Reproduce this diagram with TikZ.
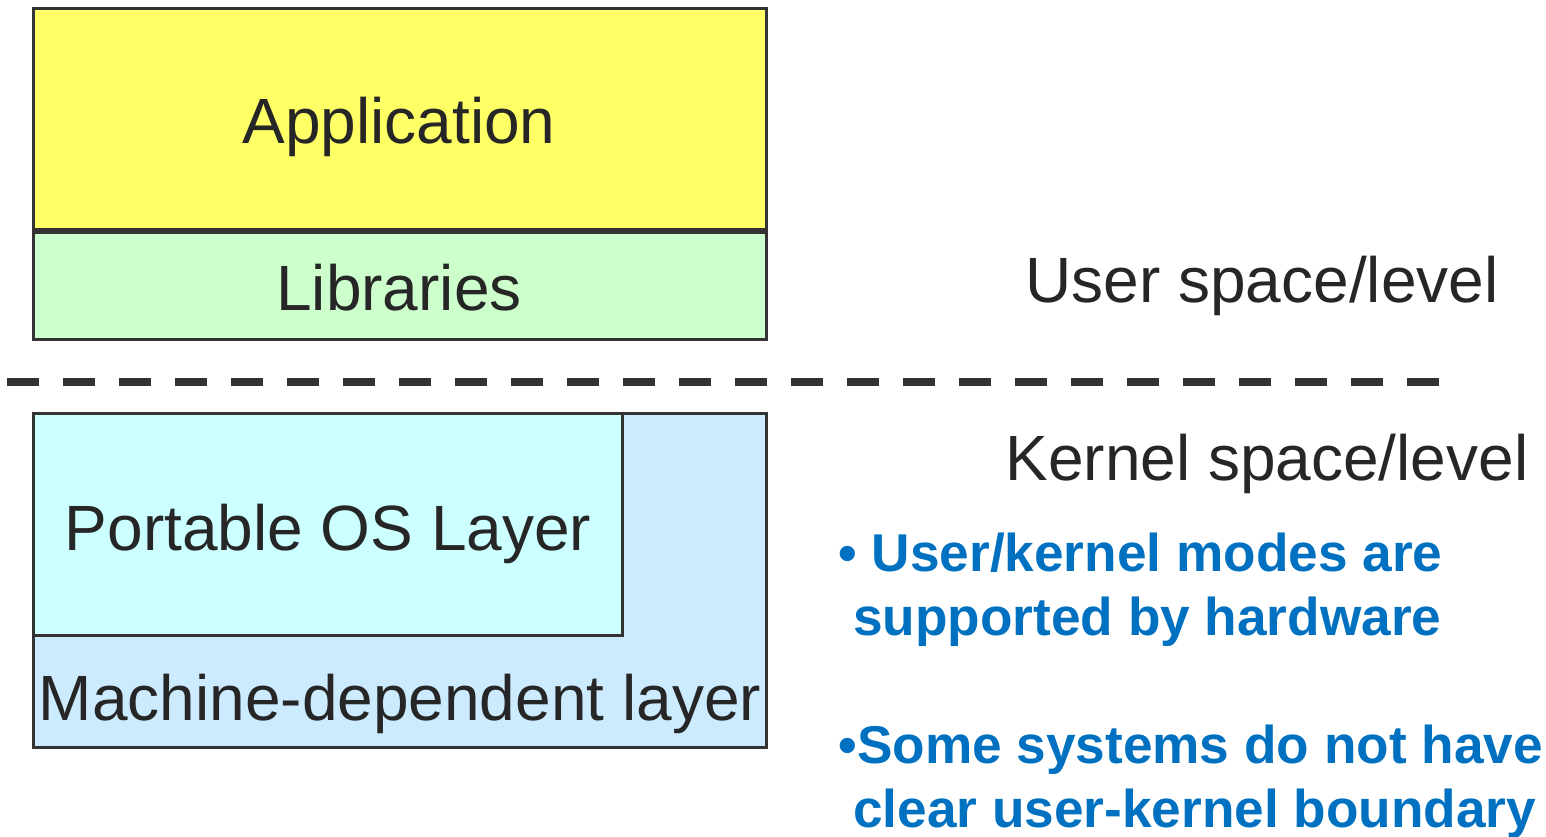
\documentclass[tikz,border=0pt]{standalone}
\usepackage{fontspec}
\setmainfont{Liberation Sans}
\definecolor{edge}{HTML}{333333}
\definecolor{ink}{HTML}{262626}
\definecolor{appfill}{HTML}{FFFF66}
\definecolor{libfill}{HTML}{CCFFCC}
\definecolor{osfill}{HTML}{CCFFFF}
\definecolor{hwfill}{HTML}{CCEBFF}
\definecolor{note}{HTML}{0070C0}
\tikzset{
  layer/.style={draw=edge, line width=1.5pt},
  label/.style={inner sep=0pt, anchor=base, text=ink,
    font=\fontsize{32}{38}\selectfont},
  bullet/.style={inner sep=0pt, anchor=base west, text=note, align=left,
    font=\fontsize{26.6}{31.75}\selectfont\bfseries},
  divider/.style={draw=edge, line width=4pt, dash pattern=on 16pt off 12pt}
}
\begin{document}
\begin{tikzpicture}[x=0.5pt, y=-0.5pt]
\useasboundingbox (0,0) rectangle (1546,836);

% user space stack
\path[layer, fill=appfill] (33,8) rectangle (766,229);
\path[layer, fill=libfill] (33,232) rectangle (766,339);
\node[label] (app) at (399,143) {Application};
\node[label] (lib) at (399,310) {Libraries};

% boundary between user and kernel space
\coordinate (divL) at (7,382);
\coordinate (divR) at (1439,382);
\draw[divider] (divL) -- (divR);

% kernel stack
\path[layer, fill=hwfill] (33,413) rectangle (766,747);
\path[layer, fill=osfill] (33,413) rectangle (622,635);
\node[label] (os) at (328,550) {Portable OS Layer};
\node[label] (hw) at (400,720) {Machine-dependent layer};

% side captions
\node[label] (user) at (1262,302) {User space/level};
\node[label] (kern) at (1267,480) {Kernel space/level};

% notes (base anchor sits on the last line)
\node[bullet] (n1) at (838,635) {• User/kernel modes are\\\hspace*{0.278em}supported by hardware};
\node[bullet] (n2) at (838,827) {•Some systems do not have\\\hspace*{0.278em}clear user-kernel boundary};
\end{tikzpicture}
\end{document}
